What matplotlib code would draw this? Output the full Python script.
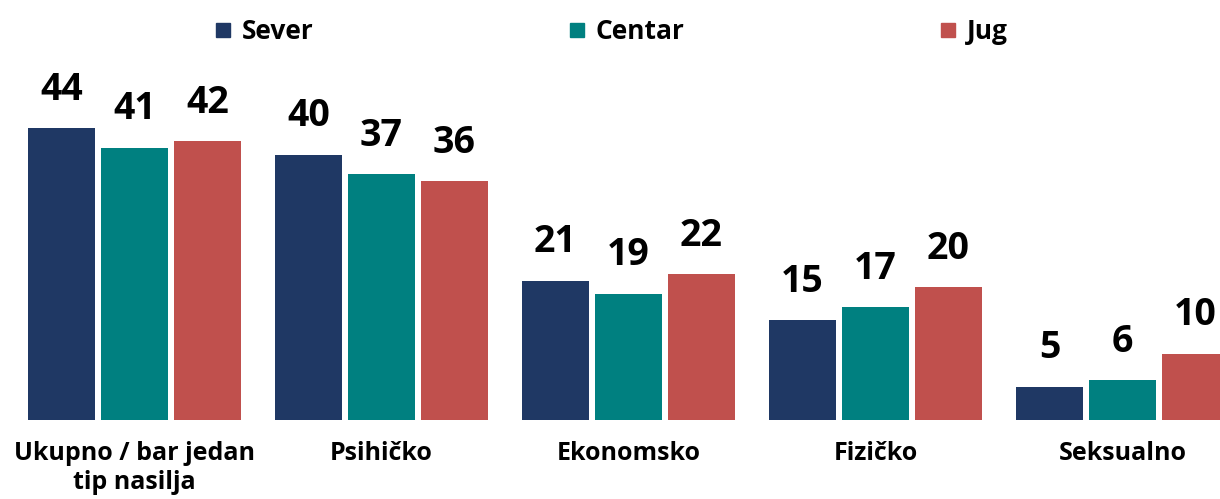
import numpy as np
import matplotlib.pyplot as plt
from matplotlib.lines import Line2D

kategorije = ["Ukupno / bar jedan\ntip nasilja", "Psihičko", "Ekonomsko", "Fizičko", "Seksualno"]
sever = [44, 40, 21, 15, 5]
centar = [41, 37, 19, 17, 6]
jug = [42, 36, 22, 20, 10]

serije = ["Sever", "Centar", "Jug"]
boje = ["#1F3864", "#008080", "#C0504D"]

plt.rcParams["font.family"] = ["Open Sans", "DejaVu Sans"]
plt.rcParams["font.weight"] = "bold"

fig = plt.figure(figsize=(12.2, 4.99), dpi=100)
ax = fig.add_axes([0, 79 / 499, 1, 360 / 499])

x = np.arange(len(kategorije))
sirina = 0.271
korak = 0.2955

for i, (vrijednosti, boja) in enumerate(zip([sever, centar, jug], boje)):
    bars = ax.bar(x + (i - 1) * korak, vrijednosti, sirina, color=boja, label=serije[i])
    ax.bar_label(bars, padding=14, fontsize=27, fontweight="bold")

ax.set_ylim(0, 360 / 6.636)
ax.set_xlim(-134.5 / 247, -134.5 / 247 + 1220 / 247)
ax.set_xticks(x)
ax.set_xticklabels(kategorije, fontsize=18, fontweight="bold", linespacing=1.2)
ax.tick_params(axis="x", length=0, pad=15)
ax.set_yticks([])
for s in ax.spines.values():
    s.set_visible(False)

ruckice = [Line2D([], [], marker="s", linestyle="none", markersize=10, color=b) for b in boje]
fig.legend(ruckice, serije, loc="upper center", bbox_to_anchor=(0.5, 1.0), ncol=3,
           frameon=False, prop={"weight": "bold", "size": 19},
           columnspacing=9.6, handletextpad=0.3, handlelength=0.8, borderaxespad=0.3)

fig.savefig("out.png", dpi=100)
